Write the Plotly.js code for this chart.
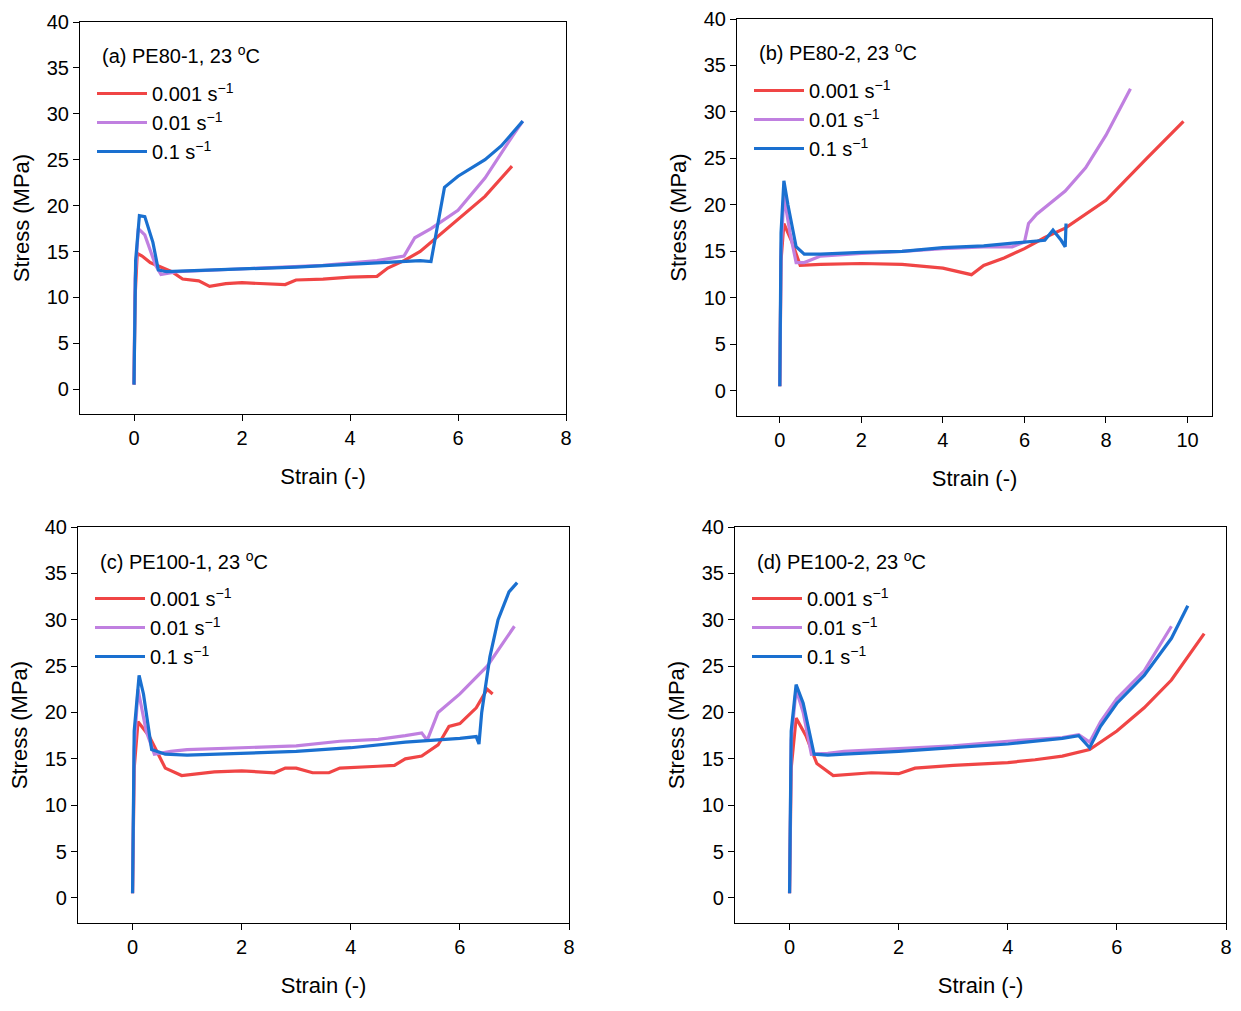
<!DOCTYPE html><html><head><script src="https://cdn.plot.ly/plotly-3.0.1.min.js"></script></head><body style="margin:0"><div id="c" style="width:1241px;height:1011px"></div><script>
const rates=["0.001 s<sup>−1</sup>","0.01 s<sup>−1</sup>","0.1 s<sup>−1</sup>"];
const titles=["(a) PE80-1, 23 <sup>o</sup>C","(b) PE80-2, 23 <sup>o</sup>C","(c) PE100-1, 23 <sup>o</sup>C","(d) PE100-2, 23 <sup>o</sup>C"];
const aR_x=[0,0.02,0.06,0.15,0.3,0.5,0.7,0.9,1.2,1.4,1.7,2,2.5,2.8,3,3.5,4,4.5,4.7,5,5.3,5.6,6,6.5,7];
const aR_y=[0.5,10,14.8,14.5,13.8,13.3,12.8,12,11.8,11.2,11.5,11.6,11.5,11.4,11.9,12,12.2,12.3,13.2,14,15,16.5,18.5,21,24.3];
const aP_x=[0,0.02,0.08,0.2,0.4,0.5,0.8,1.5,2.5,3.5,4.5,5,5.2,5.5,6,6.5,7,7.2];
const aP_y=[0.5,12,17.5,16.8,13.5,12.5,12.8,13,13.2,13.5,14,14.5,16.5,17.5,19.5,23,27.5,29.2];
const aB_x=[0,0.03,0.1,0.2,0.35,0.45,0.6,1,2,3,4,5,5.3,5.5,5.6,5.75,6,6.5,6.8,7.2];
const aB_y=[0.5,14,18.9,18.8,16,13,12.8,12.9,13.1,13.3,13.6,13.9,14,13.9,17,22,23.2,25,26.5,29.2];
const bR_x=[0,0.03,0.1,0.3,0.5,1,2,3,4,4.5,4.7,5,5.5,6,6.5,7,8,9,9.9];
const bR_y=[0.5,14,18,16,13.5,13.6,13.7,13.6,13.2,12.7,12.5,13.5,14.3,15.3,16.5,17.5,20.5,25,29];
const bP_x=[0,0.03,0.1,0.25,0.4,0.6,1,2,3,4,5,5.7,6,6.1,6.3,7,7.5,8,8.6];
const bP_y=[0.5,15,21,17,13.8,13.8,14.5,14.8,15,15.3,15.5,15.5,16,18,19,21.5,24,27.5,32.5];
const bB_x=[0,0.03,0.1,0.2,0.4,0.6,1,2,3,4,5,6,6.5,6.7,6.9,7,7.02];
const bB_y=[0.5,17,22.6,20,15.5,14.7,14.7,14.9,15,15.4,15.6,16,16.2,17.3,16.2,15.5,18];
const cR_x=[0,0.03,0.1,0.3,0.6,0.9,1.5,2,2.6,2.8,3,3.3,3.6,3.8,4.5,4.8,5,5.3,5.6,5.8,6,6.3,6.5,6.6];
const cR_y=[0.5,14,19,17.5,14,13.2,13.6,13.7,13.5,14,14,13.5,13.5,14,14.2,14.3,15,15.3,16.5,18.5,18.8,20.5,22.5,22];
const cP_x=[0,0.03,0.1,0.25,0.4,0.7,1,2,3,3.8,4.5,5,5.3,5.4,5.6,6,6.5,7];
const cP_y=[0.5,16,22.5,18,15.5,15.8,16,16.2,16.4,16.9,17.1,17.5,17.8,17,20,22,25,29.3];
const cB_x=[0,0.03,0.12,0.2,0.35,0.6,1,2,3,4,5,6,6.3,6.35,6.4,6.55,6.7,6.9,7.05];
const cB_y=[0.5,18,24,22,16,15.5,15.4,15.6,15.8,16.2,16.8,17.2,17.4,16.6,20,26,30,33,34];
const dR_x=[0,0.03,0.12,0.3,0.5,0.8,1.5,2,2.3,3,4,4.5,5,5.5,6,6.5,7,7.6];
const dR_y=[0.5,14,19.4,17.5,14.5,13.2,13.5,13.4,14,14.3,14.6,14.9,15.3,16,18,20.5,23.5,28.5];
const dP_x=[0,0.03,0.12,0.25,0.4,0.7,1,2,3,4,5,5.3,5.5,5.7,6,6.5,7];
const dP_y=[0.5,17,22.5,20,15.5,15.6,15.8,16.1,16.4,16.9,17.3,17.6,16.8,19,21.5,24.5,29.3];
const dB_x=[0,0.03,0.12,0.25,0.45,0.7,1,2,3,4,5,5.3,5.5,5.7,6,6.5,7,7.3];
const dB_y=[0.5,18,23,21,15.5,15.4,15.5,15.8,16.2,16.6,17.2,17.5,16.2,18.5,21,24,28,31.5];
const panels=[[aR_x,aR_y,aP_x,aP_y,aB_x,aB_y],[bR_x,bR_y,bP_x,bP_y,bB_x,bB_y],[cR_x,cR_y,cP_x,cP_y,cB_x,cB_y],[dR_x,dR_y,dP_x,dP_y,dB_x,dB_y]];
const colors=["#f04545","#c080e0","#1a70d0"];
const W=1241,H=1011;
const boxes=[[80,566,22,414,-1,8,8],[737,1212,19,416,-1.05,10.6,10],[78,569,527,923,-1,8,8],[735,1226,527,923,-1,8,8]];
const data=[],layout={width:W,height:H,margin:{l:0,r:0,t:0,b:0},showlegend:true,paper_bgcolor:"#fff",plot_bgcolor:"#fff",font:{family:"Liberation Sans, Arial",color:"#000"},annotations:[]};
panels.forEach((p,i)=>{
 const s=i?String(i+1):"";const b=boxes[i];
 const lg=i?"legend"+(i+1):"legend";
 for(let k=0;k<3;k++)data.push({x:p[2*k],y:p[2*k+1],xaxis:"x"+s,yaxis:"y"+s,mode:"lines",name:rates[k],line:{color:colors[k],width:3.2},legend:lg});
 const ax={showline:true,mirror:true,linecolor:"#000",linewidth:1.2,ticks:"outside",ticklen:6,tickcolor:"#000",showgrid:false,zeroline:false,tickfont:{size:20}};
 layout["xaxis"+s]=Object.assign({},ax,{domain:[b[0]/W,b[1]/W],range:[b[4],b[5]],dtick:2,anchor:"y"+s,title:{text:"Strain (-)",font:{size:22},standoff:20}});
 layout["yaxis"+s]=Object.assign({},ax,{domain:[1-b[3]/H,1-b[2]/H],range:[-2.7,40],dtick:5,anchor:"x"+s,title:{text:"Stress (MPa)",font:{size:22},standoff:10}});
 layout.annotations.push({xref:"paper",yref:"paper",x:(b[0]+20)/W,y:1-(b[2]+33)/H,xanchor:"left",yanchor:"middle",text:titles[i],showarrow:false,font:{size:20}});
 layout[lg]={x:(b[0]+12)/W,y:1-(b[2]+52)/H,xanchor:"left",yanchor:"top",bgcolor:"rgba(0,0,0,0)",font:{size:20},tracegroupgap:0,itemwidth:50};
});
Plotly.newPlot("c",data,layout,{displayModeBar:false});
</script></body></html>
